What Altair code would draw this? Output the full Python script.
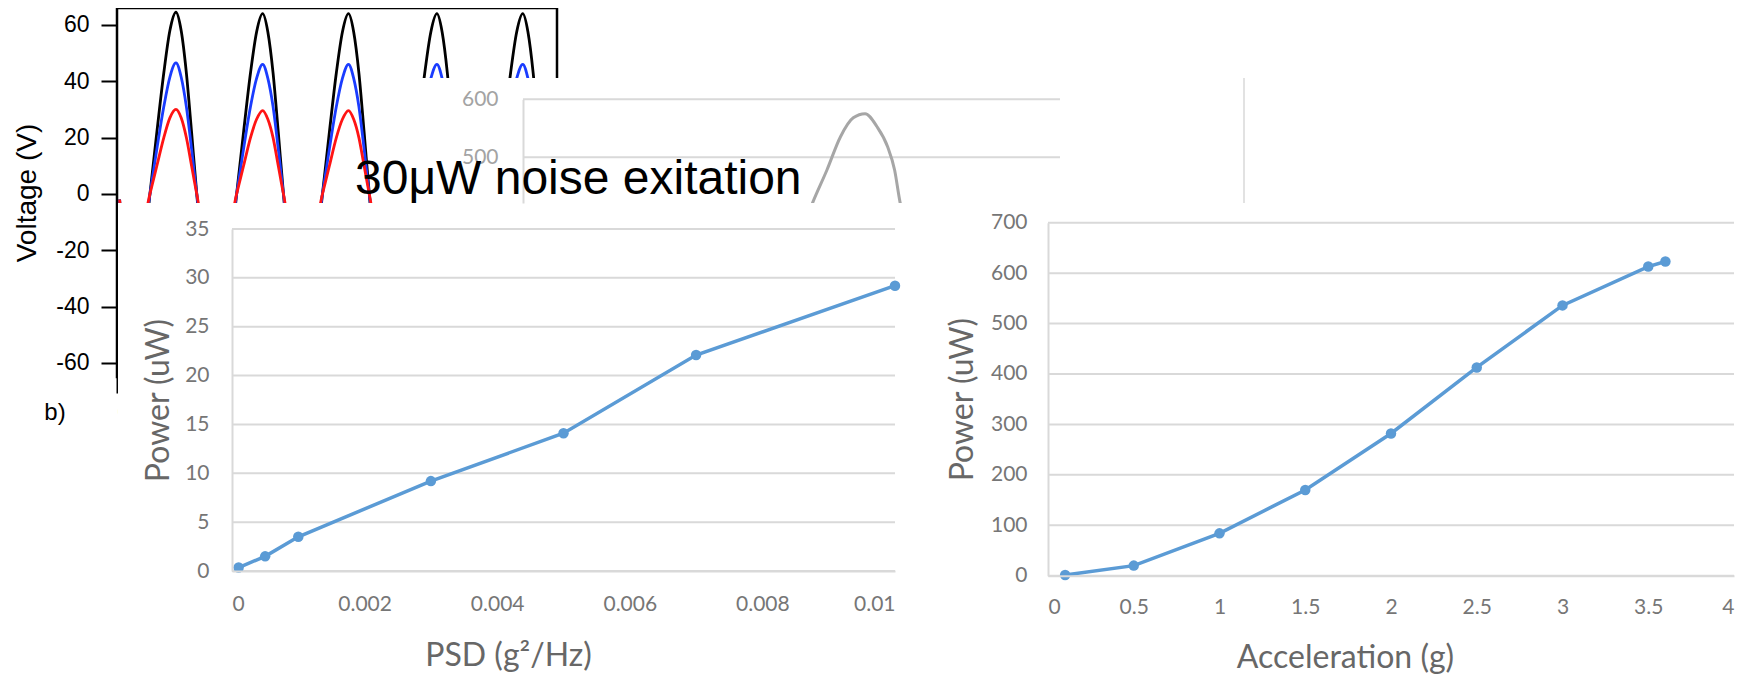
import altair as alt
import pandas as pd

# ---------------- data ----------------
# background voltage traces (time in ms, voltage in V)
volt_time = [0.3, 0.6,
             3.2, 3.8, 4.6, 5.4, 6.1, 6.8, 7.4, 8.0, 8.6, 9.2, 9.7,
             13.2, 13.8, 14.6, 15.4, 16.1, 16.8, 17.4, 18.0, 18.6, 19.2, 19.7,
             23.1, 23.7, 24.5, 25.3, 26.0, 26.7, 27.3, 27.9, 28.5, 29.1, 29.6,
             33.3, 33.9, 34.7, 35.5, 36.2, 36.9, 37.5, 38.1, 38.7, 39.3, 39.8,
             43.2, 43.8, 44.6, 45.4, 46.1, 46.8, 47.4, 48.0, 48.6, 49.2, 49.7,
             50.5]
volt_black = [-2, -15,
              -15, 0, 22, 43, 58, 64.5, 58, 43, 22, 0, -15,
              -15, 0, 22, 43, 57.5, 64, 57.5, 43, 22, 0, -15,
              -15, 0, 22, 43, 57.5, 64, 57.5, 43, 22, 0, -15,
              -15, 0, 22, 43, 57.5, 64, 57.5, 43, 22, 0, -15,
              -15, 0, 22, 43, 57.5, 64, 57.5, 43, 22, 0, -15,
              -15]
volt_blue = [-2, -12,
             -11, 0, 16, 31, 41.5, 46.5, 41.5, 31, 16, 0, -11,
             -11, 0, 16, 31, 41, 46, 41, 31, 16, 0, -11,
             -11, 0, 16, 31, 41, 46, 41, 31, 16, 0, -11,
             -11, 0, 16, 31, 41, 46, 41, 31, 16, 0, -11,
             -11, 0, 16, 31, 41, 46, 41, 31, 16, 0, -11,
             -11]
volt_red = [-2, -8,
            -7, 0, 10, 20, 27, 30, 27, 20, 10, 0, -7,
            -7, 0, 10, 20, 26.5, 29.6, 26.5, 20, 10, 0, -7,
            -7, 0, 10, 20, 26.5, 29.6, 26.5, 20, 10, 0, -7,
            -7, 0, 10, 20, 26.5, 29.6, 26.5, 20, 10, 0, -7,
            -7, 0, 10, 20, 26.5, 29.6, 26.5, 20, 10, 0, -7,
            -7]
volt_series = ["black", "blue", "red"]
volt_colors = ["#000000", "#1a3cff", "#ff1414"]
volt_ticks = [-60, -40, -20, 0, 20, 40, 60]
volt_time_ticks = [0, 10, 20, 30, 40, 50]

# partially hidden grey chart
grey_x = [53.1, 54.0, 56.6, 59.1, 61.5, 63.7, 65.9, 67.9, 69.2, 70.2, 70.9]
grey_v = [402, 423, 478, 535, 568, 575, 553, 518, 478, 423, 395]
grey_ticks = [500, 600]

# left power chart
psd = [0.0001, 0.0005, 0.001, 0.003, 0.005, 0.007, 0.01]
power_psd = [0.35, 1.5, 3.5, 9.2, 14.1, 22.1, 29.2]
psd_ticks = [0, 0.002, 0.004, 0.006, 0.008, 0.01]
psd_power_ticks = [0, 5, 10, 15, 20, 25, 30, 35]

# right power chart
accel = [0.1, 0.5, 1.0, 1.5, 2.0, 2.5, 3.0, 3.5, 3.6]
power_acc = [1.5, 20, 84, 170, 282, 413, 536, 613, 623]
accel_ticks = [0, 0.5, 1, 1.5, 2, 2.5, 3, 3.5, 4]
acc_power_ticks = [0, 100, 200, 300, 400, 500, 600, 700]

title_text = "30\u03bcW noise exitation"

# ---------------- layout (pixels inside the 1730x667 canvas) ----------------
W, H = 1730, 667
V_X = (0, 50.75, 109, 549)      # domain min, max, pixel min, pixel max
V_Y = (-65, 66, 369, 0)
G_X = (0, 100, 515, 1052)
G_Y = (421, 600, 195, 91.3)
L_X = (0, 0.01, 224, 887)
L_Y = (0, 35, 563, 221)
R_X = (0, 4, 1040, 1726)
R_Y = (0, 700, 567.7, 214.7)


def sc(s):
    return alt.Scale(domain=[s[0], s[1]], range=[s[2], s[3]], nice=False, zero=False)


def inv(s, px):
    return s[0] + (px - s[2]) * (s[1] - s[0]) / (s[3] - s[2])


BLUE = "#5B9BD5"
GRID = "#d9d9d9"
LBL = "#767676"
TTL = "#676767"
FONT = "Lato"
ARIAL = "Liberation Sans"

marks = []

# ---------------- voltage chart ----------------
rows = []
for name, vals in zip(volt_series, [volt_black, volt_blue, volt_red]):
    for t, v in zip(volt_time, vals):
        rows.append({"t": t, "v": v, "series": name})
volt_df = pd.DataFrame(rows)
frame_df = pd.DataFrame({"t0": [V_X[0]], "t1": [V_X[1]], "v0": [V_Y[0]], "v1": [V_Y[1]]})
blabel_df = pd.DataFrame({"t": [inv(V_X, 47)], "v": [inv(V_Y, 405)], "label": ["b)"]})

marks.append(alt.Chart(frame_df).mark_rect(fillOpacity=0, stroke="black", strokeWidth=2.5).encode(
    x=alt.X("t0:Q", scale=sc(V_X), axis=alt.Axis(
        orient="bottom", offset=V_Y[2] - H, values=volt_time_ticks, grid=False, domain=False,
        tickSize=16, tickWidth=2, tickColor="black", labelFont=ARIAL, labelFontSize=23,
        labelColor="black", labelPadding=8, labelOverlap=False, title=None)),
    x2="t1:Q",
    y=alt.Y("v0:Q", scale=sc(V_Y), axis=alt.Axis(
        orient="left", offset=-V_X[2], values=volt_ticks, grid=False, domain=False,
        tickSize=16, tickWidth=2, tickColor="black", labelFont=ARIAL, labelFontSize=23,
        labelColor="black", labelPadding=12, labelExpr="'' + datum.value",
        title="Voltage (V)", titleFont=ARIAL, titleFontSize=28, titleFontWeight="normal",
        titleColor="black", titlePadding=14)),
    y2="v1:Q",
))
marks.append(alt.Chart(volt_df).mark_line(strokeWidth=2.8, interpolate="monotone").encode(
    x=alt.X("t:Q", scale=sc(V_X), axis=None),
    y=alt.Y("v:Q", scale=sc(V_Y), axis=None),
    color=alt.Color("series:N", scale=alt.Scale(domain=volt_series, range=volt_colors), legend=None),
))
marks.append(alt.Chart(blabel_df).mark_text(font=ARIAL, fontSize=24, color="black", align="center",
                                            baseline="middle").encode(
    x=alt.X("t:Q", scale=sc(V_X), axis=None), y=alt.Y("v:Q", scale=sc(V_Y), axis=None),
    text="label:N"))

# ---------------- grey chart (mostly hidden) ----------------
grey_df = pd.DataFrame({"x": grey_x, "v": grey_v})
gbox_df = pd.DataFrame({"x0": [inv(G_X, 397)], "x1": [inv(G_X, 1236)],
                        "y0": [inv(G_Y, 195)], "y1": [inv(G_Y, 70)]})
ggrid_df = pd.DataFrame({"g": grey_ticks, "a": [G_X[0]] * 2, "b": [G_X[1]] * 2})
marks.append(alt.Chart(gbox_df).mark_rect(fill="white").encode(
    x=alt.X("x0:Q", scale=sc(G_X), axis=None), x2="x1:Q",
    y=alt.Y("y0:Q", scale=sc(G_Y), axis=None), y2="y1:Q"))
marks.append(alt.Chart(gbox_df).mark_rule(color=GRID, strokeWidth=1.5).encode(
    x=alt.X("x1:Q", scale=sc(G_X), axis=None),
    y=alt.Y("y0:Q", scale=sc(G_Y), axis=None), y2="y1:Q"))
marks.append(alt.Chart(ggrid_df).mark_rule(color=GRID, strokeWidth=2).encode(
    y=alt.Y("g:Q", scale=sc(G_Y), axis=alt.Axis(
        orient="left", offset=-G_X[2], values=grey_ticks, grid=False, ticks=False,
        domainColor=GRID, domainWidth=2, labelFont=FONT, labelFontSize=21,
        labelColor="#a3a3a3", labelPadding=25, title=None, zindex=1)),
    x=alt.X("a:Q", scale=sc(G_X), axis=None), x2="b:Q"))
marks.append(alt.Chart(grey_df).mark_line(color="#a6a6a6", strokeWidth=3, interpolate="monotone").encode(
    x=alt.X("x:Q", scale=sc(G_X), axis=None), y=alt.Y("v:Q", scale=sc(G_Y), axis=None)))

# ---------------- left power chart ----------------
left_df = pd.DataFrame({"psd": psd, "power": power_psd})
lbox_df = pd.DataFrame({"x0": [inv(L_X, 110)], "x1": [inv(L_X, 922)],
                        "y0": [inv(L_Y, 675)], "y1": [inv(L_Y, 195)]})
lgrid_df = pd.DataFrame({"g": psd_power_ticks, "a": [L_X[0]] * len(psd_power_ticks),
                         "b": [L_X[1]] * len(psd_power_ticks)})
marks.append(alt.Chart(lbox_df).mark_rect(fill="white").encode(
    x=alt.X("x0:Q", scale=sc(L_X), axis=None), x2="x1:Q",
    y=alt.Y("y0:Q", scale=sc(L_Y), axis=None), y2="y1:Q"))
marks.append(alt.Chart(lgrid_df).mark_rule(color=GRID, strokeWidth=2).encode(
    y=alt.Y("g:Q", scale=sc(L_Y), axis=None),
    x=alt.X("a:Q", scale=sc(L_X), axis=None), x2="b:Q"))
marks.append(alt.Chart(left_df).mark_line(color=BLUE, strokeWidth=3.5).encode(
    x=alt.X("psd:Q", scale=sc(L_X), axis=alt.Axis(
        orient="bottom", offset=L_Y[2] - H, values=psd_ticks, format="~g", grid=False,
        ticks=False, domainColor=GRID, domainWidth=2, labelFont=FONT, labelFontSize=21,
        labelColor=LBL, labelPadding=22, title="PSD (g\u00b2/Hz)", titleFont=FONT,
        titleFontSize=32, titleFontWeight="normal", titleColor=TTL, titlePadding=26,
        titleX=500, zindex=1)),
    y=alt.Y("power:Q", scale=sc(L_Y), axis=alt.Axis(
        orient="left", offset=-L_X[2], values=psd_power_ticks, grid=False, ticks=False,
        domainColor=GRID, domainWidth=2, labelFont=FONT, labelFontSize=21,
        labelColor=LBL, labelPadding=23, title="Power (uW)", titleFont=FONT,
        titleFontSize=32, titleFontWeight="normal", titleColor=TTL, titlePadding=9, zindex=1)),
))
marks.append(alt.Chart(left_df).mark_circle(color=BLUE, size=110, opacity=1).encode(
    x=alt.X("psd:Q", scale=sc(L_X), axis=None), y=alt.Y("power:Q", scale=sc(L_Y), axis=None)))

# ---------------- right power chart ----------------
right_df = pd.DataFrame({"accel": accel, "power": power_acc})
rgrid_df = pd.DataFrame({"g": acc_power_ticks, "a": [R_X[0]] * len(acc_power_ticks),
                         "b": [R_X[1]] * len(acc_power_ticks)})
marks.append(alt.Chart(rgrid_df).mark_rule(color=GRID, strokeWidth=2).encode(
    y=alt.Y("g:Q", scale=sc(R_Y), axis=None),
    x=alt.X("a:Q", scale=sc(R_X), axis=None), x2="b:Q"))
marks.append(alt.Chart(right_df).mark_line(color=BLUE, strokeWidth=3.5).encode(
    x=alt.X("accel:Q", scale=sc(R_X), axis=alt.Axis(
        orient="bottom", offset=R_Y[2] - H, values=accel_ticks, format="~g", grid=False,
        ticks=False, domainColor=GRID, domainWidth=2, labelFont=FONT, labelFontSize=21,
        labelColor=LBL, labelPadding=21, title="Acceleration (g)", titleFont=FONT,
        titleFontSize=32, titleFontWeight="normal", titleColor=TTL, titlePadding=25,
        titleX=1337, zindex=1)),
    y=alt.Y("power:Q", scale=sc(R_Y), axis=alt.Axis(
        orient="left", offset=-R_X[2], values=acc_power_ticks, grid=False, ticks=False,
        domainColor=GRID, domainWidth=2, labelFont=FONT, labelFontSize=21,
        labelColor=LBL, labelPadding=21, title="Power (uW)", titleFont=FONT,
        titleFontSize=32, titleFontWeight="normal", titleColor=TTL, titlePadding=11, zindex=1)),
))
marks.append(alt.Chart(right_df).mark_circle(color=BLUE, size=110, opacity=1).encode(
    x=alt.X("accel:Q", scale=sc(R_X), axis=None), y=alt.Y("power:Q", scale=sc(R_Y), axis=None)))

chart = alt.layer(*marks).resolve_scale(
    x="independent", y="independent"
).properties(
    width=W, height=H, padding=0,
    autosize=alt.AutoSizeParams(type="none"),
    title=alt.TitleParams(text=title_text, font=ARIAL, fontSize=48, fontWeight="normal",
                          color="black", anchor="start", frame="group", orient="top",
                          baseline="alphabetic", offset=0, dx=347, dy=235, zindex=2),
).configure_view(stroke=None)

chart.save("out.html", embed_options={"renderer": "svg", "actions": False})
